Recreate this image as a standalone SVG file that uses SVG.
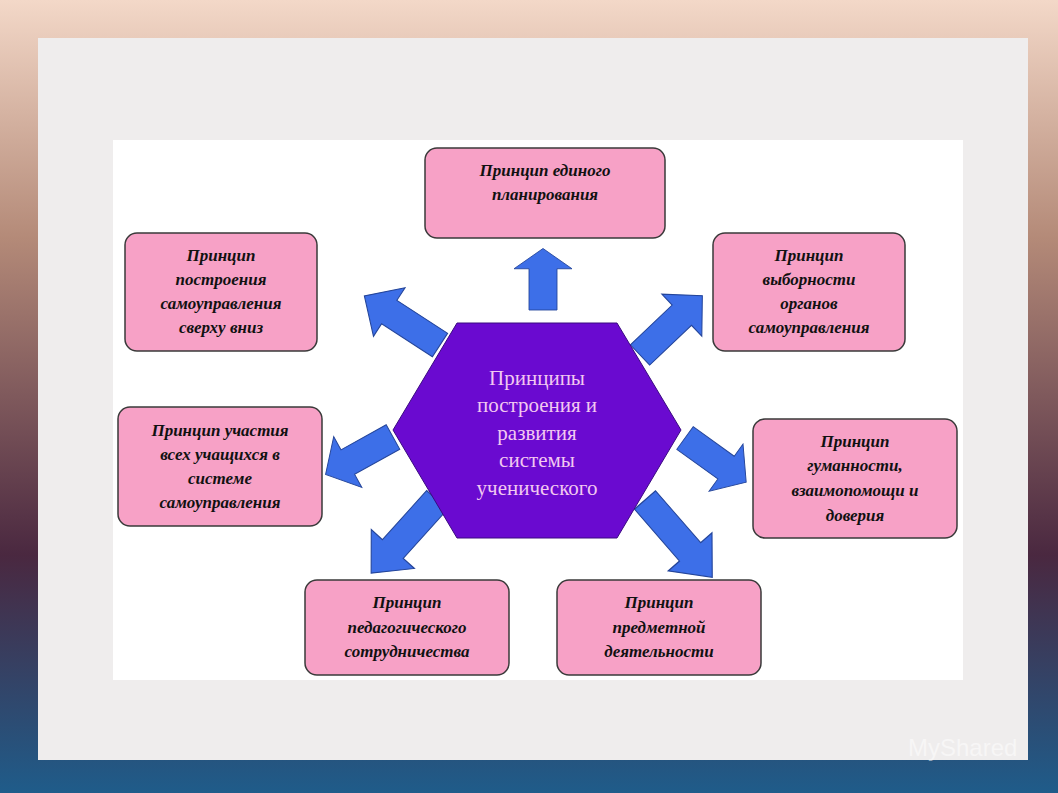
<svg xmlns="http://www.w3.org/2000/svg" width="1058" height="793" viewBox="0 0 1058 793">
<defs>
<linearGradient id="bg" x1="0" y1="0" x2="0" y2="1">
<stop offset="0" stop-color="#f3d8c8"/><stop offset="0.3" stop-color="#b48a78"/><stop offset="0.7" stop-color="#4a2840"/><stop offset="1" stop-color="#1f5c8a"/>
</linearGradient>
<path id="arr" d="M0,-14 L55,-14 L55,-29 L82,0 L55,29 L55,14 L0,14 Z"/>
<style>
.box{fill:#f7a1c6;stroke:#3a3a3a;stroke-width:1.5}
.t{font-family:"Liberation Serif",serif;font-weight:bold;font-style:italic;font-size:17px;fill:#111;text-anchor:middle}
.a{fill:#3d6fe8;stroke:#24459a;stroke-width:1}
.c{font-family:"Liberation Serif",serif;font-size:21px;fill:#f2c8f0;text-anchor:middle}
</style>
</defs>
<rect width="1058" height="793" fill="url(#bg)"/>
<rect x="38" y="38" width="990" height="722" fill="#efeded"/>
<rect x="113" y="140" width="850" height="540" fill="#ffffff"/>
<g id="connectors">
<use href="#arr" class="a" transform="translate(543,310) rotate(-90) scale(0.75,1)"/>
<use href="#arr" class="a" transform="translate(440,345) rotate(-147) scale(1.1,1)"/>
<use href="#arr" class="a" transform="translate(640,355) rotate(-43.6) scale(1.05,1)"/>
<use href="#arr" class="a" transform="translate(685,438) rotate(35.8) scale(0.92,1)"/>
<use href="#arr" class="a" transform="translate(393,437) rotate(151) scale(0.94,1)"/>
<use href="#arr" class="a" transform="translate(437,500) rotate(132) scale(1.2,1)"/>
<use href="#arr" class="a" transform="translate(645,500) rotate(49) scale(1.25,1)"/>
</g>
<g id="center">
<polygon points="393,430 457,323 617,323 681,430 617,538 457,538" fill="#6a0ad0" stroke="#3a0a80" stroke-width="1"/>
<text class="c" x="537" y="385">Принципы</text>
<text class="c" x="537" y="412">построения и</text>
<text class="c" x="537" y="440">развития</text>
<text class="c" x="537" y="467">системы</text>
<text class="c" x="537" y="495">ученического</text>
</g>
<g id="n1"><rect class="box" x="425" y="148" width="240" height="90" rx="12"/>
<text class="t" x="545" y="176">Принцип единого</text><text class="t" x="545" y="200">планирования</text></g>
<g id="n2"><rect class="box" x="125" y="233" width="192" height="118" rx="12"/>
<text class="t" x="221" y="261">Принцип</text><text class="t" x="221" y="285">построения</text><text class="t" x="221" y="309">самоуправления</text><text class="t" x="221" y="333">сверху вниз</text></g>
<g id="n3"><rect class="box" x="713" y="233" width="192" height="118" rx="12"/>
<text class="t" x="809" y="261">Принцип</text><text class="t" x="809" y="285">выборности</text><text class="t" x="809" y="309">органов</text><text class="t" x="809" y="333">самоуправления</text></g>
<g id="n4"><rect class="box" x="118" y="407" width="204" height="119" rx="12"/>
<text class="t" x="220" y="436">Принцип участия</text><text class="t" x="220" y="460">всех учащихся  в</text><text class="t" x="220" y="484">системе</text><text class="t" x="220" y="508">самоуправления</text></g>
<g id="n5"><rect class="box" x="753" y="419" width="204" height="119" rx="12"/>
<text class="t" x="855" y="447">Принцип</text><text class="t" x="855" y="471">гуманности,</text><text class="t" x="855" y="496">взаимопомощи и</text><text class="t" x="855" y="521">доверия</text></g>
<g id="n6"><rect class="box" x="305" y="580" width="204" height="95" rx="12"/>
<text class="t" x="407" y="608">Принцип</text><text class="t" x="407" y="633">педагогического</text><text class="t" x="407" y="657">сотрудничества</text></g>
<g id="n7"><rect class="box" x="557" y="580" width="204" height="95" rx="12"/>
<text class="t" x="659" y="608">Принцип</text><text class="t" x="659" y="633">предметной</text><text class="t" x="659" y="657">деятельности</text></g>
<text x="908" y="756" font-family="Liberation Sans,sans-serif" font-size="24" fill="#ffffff" fill-opacity="0.5">MyShared</text>
</svg>
